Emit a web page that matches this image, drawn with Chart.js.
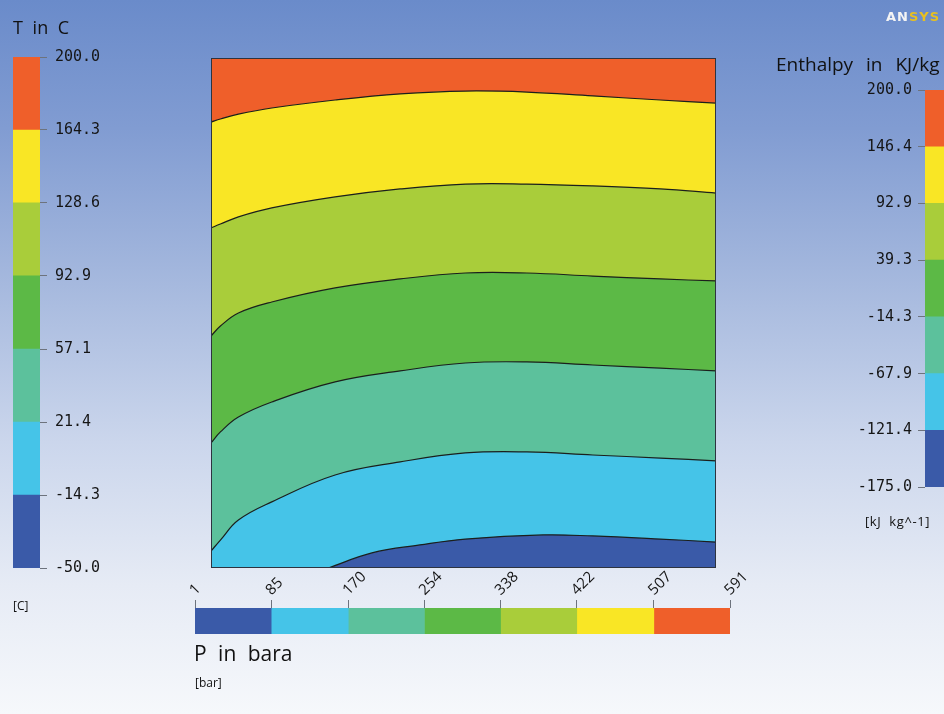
<!DOCTYPE html>
<html>
<head>
<meta charset="utf-8">
<title>Enthalpy contour – T vs P</title>
<script src="https://cdn.jsdelivr.net/npm/chart.js@4/dist/chart.umd.min.js"></script>
<style>
    html, body { margin: 0; padding: 0; }
    body {
        width: 944px; height: 714px; overflow: hidden; position: relative;
        background: linear-gradient(to bottom, #6a8bca 0%, #819cd2 18%, #a6b9de 40%, #cbd6ec 62%, #e6ebf5 82%, #f6f8fb 100%);
        font-family: "Open Sans", "DejaVu Sans", sans-serif; color: #111;
    }
    canvas { position: absolute; }
    .lbl { position: absolute; white-space: pre; line-height: 1; }
    .logo { position: absolute; left: 886px; top: 9px; font: bold 13px "DejaVu Sans", sans-serif; letter-spacing: 1px; }
</style>
</head>
<body>
<canvas id="contour" width="944" height="714" style="left:0;top:0"></canvas>
<canvas id="tBar" width="130" height="600" style="left:0;top:0"></canvas>
<canvas id="hBar" width="132" height="520" style="left:820px;top:0"></canvas>
<canvas id="pBar" width="640" height="110" style="left:150px;top:540px"></canvas>

<div class="lbl" style="left:13px;top:18px;font-size:18px;word-spacing:5px">T in C</div>
<div class="lbl" style="left:13px;top:600px;font-size:12px">[C]</div>
<div class="lbl" style="left:776px;top:55px;font-size:19px;word-spacing:8px">Enthalpy in KJ/kg</div>
<div class="lbl" style="left:865px;top:515px;font-size:13px;word-spacing:4px;letter-spacing:0.6px">[kJ kg^-1]</div>
<div class="lbl" style="left:194px;top:643px;font-size:21px;word-spacing:6px">P in bara</div>
<div class="lbl" style="left:195px;top:677px;font-size:12px">[bar]</div>
<div class="logo"><span style="color:#f4f4f4">AN</span><span style="color:#e8c020">SYS</span></div>

<script>
(() => {
    "use strict";

    // ====== Data ======
    // contour lines of constant enthalpy, T (°C) against P (bara)
    const pressure = [1, 12, 33, 72, 146, 222, 298, 370, 447, 526, 591];
    const tAtH146 = [168.6, 170.1, 172.5, 175.5, 179.4, 182.4, 183.8, 183.3, 181.4, 179.4, 177.9];
    const tAtH93 = [116.7, 118.6, 122.1, 126.5, 131.9, 135.8, 138.2, 138.2, 137.3, 135.8, 133.8];
    const tAtH39 = [63.7, 68.6, 75.0, 80.4, 87.3, 91.7, 94.6, 94.6, 93.1, 91.7, 90.7];
    const tAtHm14 = [11.3, 16.7, 24.0, 31.4, 41.2, 46.6, 50.5, 51.0, 49.5, 48.0, 46.6];
    const tAtHm68 = [-41.7, -36.3, -26.5, -17.6, -4.4, 2.0, 6.4, 6.9, 5.4, 3.9, 2.5];
    // the lowest contour only enters the plot from the bottom edge
    const pressureLow = [138, 189, 245, 298, 389, 447, 526, 591];
    const tAtHm121 = [-50.0, -42.6, -38.7, -35.8, -33.8, -34.3, -35.8, -37.3];
    const topEdgeP = [1, 591];
    const topEdgeT = [200, 200];

    // colour bar tick labels
    const tempTicks = [-50.0, -14.3, 21.4, 57.1, 92.9, 128.6, 164.3, 200.0];
    const enthalpyTicks = [-175.0, -121.4, -67.9, -14.3, 39.3, 92.9, 146.4, 200.0];
    const pressureTicks = [1, 85, 170, 254, 338, 422, 507, 591];

    // low -> high band colours
    const bandColors = ["#3a5aa8", "#45c4e8", "#5cc19c", "#5cb946", "#a9cd3a", "#f9e625", "#ef5f2a"];

    // ====== Helpers ======
    const toPoints = (xs, ys) => xs.map((x, i) => ({ x, y: ys[i] }));

    function contourLine(xs, ys, fillColor, lineWidth) {
        return {
            data: toPoints(xs, ys),
            fill: "start",
            backgroundColor: fillColor,
            borderColor: "#1b1f1c",
            borderWidth: lineWidth,
            pointRadius: 0,
            tension: 0.4
        };
    }

    const frame = {
        id: "frame",
        afterDatasetsDraw(chart) {
            const { ctx, chartArea: a } = chart;
            ctx.save();
            ctx.strokeStyle = "#2d3440";
            ctx.lineWidth = 1;
            ctx.strokeRect(a.left + 0.5, a.top + 0.5, a.width - 1, a.height - 1);
            ctx.restore();
        }
    };

    // ====== Contour plot ======
    // dataset 0 is painted last, so the lowest band goes first
    new Chart(document.getElementById("contour"), {
        type: "line",
        data: {
            datasets: [
                contourLine(pressureLow, tAtHm121, bandColors[0], 1.2),
                contourLine(pressure, tAtHm68, bandColors[1], 1.2),
                contourLine(pressure, tAtHm14, bandColors[2], 1.2),
                contourLine(pressure, tAtH39, bandColors[3], 1.2),
                contourLine(pressure, tAtH93, bandColors[4], 1.2),
                contourLine(pressure, tAtH146, bandColors[5], 1.2),
                contourLine(topEdgeP, topEdgeT, bandColors[6], 0)
            ]
        },
        options: {
            responsive: false,
            animation: false,
            layout: { padding: { left: 211, right: 228, top: 58, bottom: 146 } },
            plugins: { legend: { display: false }, tooltip: { enabled: false } },
            scales: {
                x: { type: "linear", min: 1, max: 591, display: false },
                y: { type: "linear", min: -50, max: 200, display: false }
            }
        },
        plugins: [frame]
    });

    // ====== Colour bars ======
    function colorBar(id, ticks, cfg) {
        const valueAxis = cfg.horizontal ? "x" : "y";
        const catAxis = cfg.horizontal ? "y" : "x";
        return new Chart(document.getElementById(id), {
            type: "bar",
            data: {
                labels: [""],
                datasets: bandColors.map((c, i) => ({
                    data: [[ticks[i], ticks[i + 1]]],
                    backgroundColor: c,
                    borderWidth: 0
                }))
            },
            options: {
                indexAxis: catAxis,
                responsive: false,
                animation: false,
                layout: { padding: cfg.padding },
                datasets: { bar: { grouped: false, barPercentage: 1, categoryPercentage: 1 } },
                plugins: { legend: { display: false }, tooltip: { enabled: false } },
                scales: {
                    [catAxis]: { display: false },
                    [valueAxis]: {
                        type: "linear",
                        position: cfg.position,
                        min: ticks[0],
                        max: ticks[ticks.length - 1],
                        afterBuildTicks: (s) => { s.ticks = ticks.map((v) => ({ value: v })); },
                        afterFit: (s) => {
                            if (cfg.horizontal) s.height = cfg.axisSize;
                            else s.width = cfg.axisSize;
                        },
                        grid: { drawOnChartArea: false, tickLength: cfg.tickLength, color: "#6d737d" },
                        border: { display: false },
                        ticks: {
                            autoSkip: false,
                            padding: cfg.tickPad,
                            labelOffset: cfg.labelOffset || 0,
                            color: "#151515",
                            font: cfg.font,
                            minRotation: cfg.rotation || 0,
                            maxRotation: cfg.rotation || 0,
                            callback: cfg.format
                        }
                    }
                }
            }
        });
    }

    const monoFont = { family: "'DejaVu Sans Mono', monospace", size: 15 };
    const oneDecimal = (v) => Number(v).toFixed(1);

    colorBar("tBar", tempTicks, {
        position: "right",
        axisSize: 90,
        tickLength: 7,
        tickPad: 8,
        padding: { left: 13, right: 0, top: 57, bottom: 32 },
        font: monoFont,
        format: oneDecimal
    });

    colorBar("hBar", enthalpyTicks, {
        position: "left",
        axisSize: 105,
        tickLength: 7,
        tickPad: 6,
        padding: { left: 0, right: 0, top: 90, bottom: 33 },
        font: monoFont,
        format: oneDecimal
    });

    colorBar("pBar", pressureTicks, {
        horizontal: true,
        position: "top",
        axisSize: 68,
        tickLength: 8,
        tickPad: 1,
        labelOffset: 10,
        rotation: 45,
        padding: { left: 45, right: 60, top: 0, bottom: 16 },
        font: { family: "'Open Sans', 'DejaVu Sans', sans-serif", size: 15 },
        format: (v) => String(v)
    });
})();
</script>
</body>
</html>
